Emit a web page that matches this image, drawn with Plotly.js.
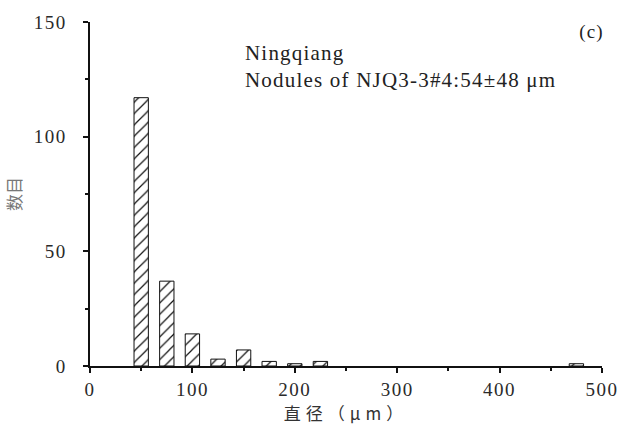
<!DOCTYPE html>
<html><head><meta charset="utf-8">
<script src="https://cdn.plot.ly/plotly-3.0.1.min.js"></script>
<style>
html,body{margin:0;padding:0;background:#fff;}#c{width:617px;height:425px;}
g.xtick text, g.ytick text{letter-spacing:1.5px;}
g.annotation text{letter-spacing:1.2px;}
text.xtitle{letter-spacing:5px;}
</style>
</head><body><div id="c"></div>
<script>
const diameters = [50, 75, 100, 125, 150, 175, 200, 225, 475];
const counts = [117, 37, 14, 3, 7, 2, 1, 2, 1];
const xTicks = [0, 100, 200, 300, 400, 500];
const yTicks = [0, 50, 100, 150];
const xTitle = "直径（μm）";
const yTitle = "数目";
const noteLines = ["Ningqiang", "Nodules of NJQ3-3#4:54±48 μm"];
const panelLabel = "(c)";

const serif = "Liberation Serif, Times New Roman, serif";
const trace = {
  type: "bar", x: diameters, y: counts, width: 14,
  marker: {color: "white", line: {color: "#111", width: 1},
    pattern: {shape: "/", fgcolor: "#111", bgcolor: "white", size: 8, solidity: 0.15}},
  hoverinfo: "skip"
};
const layout = {
  width: 617, height: 425, margin: {l: 90, r: 15, t: 22, b: 59},
  paper_bgcolor: "white", plot_bgcolor: "white", showlegend: false,
  font: {family: serif, size: 19, color: "#2a2a2a"},
  xaxis: {range: [0, 500], tickvals: xTicks, ticktext: xTicks.map(String), showgrid: false, zeroline: false,
    showline: true, linecolor: "#111", linewidth: 2, ticks: "outside", ticklen: 5, tickwidth: 2, tickcolor: "#111",
    ticklabeloverflow: "allow",
    minor: {dtick: 50, tick0: 0, ticks: "outside", ticklen: 3, tickwidth: 2, tickcolor: "#111"},
    title: {text: xTitle, font: {family: "Noto Sans CJK SC, serif", size: 17, color: "#333"}, standoff: 12}},
  yaxis: {range: [0, 150], tickvals: yTicks, ticktext: yTicks.map(v => v + "\u00a0\u00a0"), showgrid: false, zeroline: false,
    showline: true, linecolor: "#111", linewidth: 2, ticks: "outside", ticklen: 5, tickwidth: 2, tickcolor: "#111",
    minor: {dtick: 25, tick0: 0, ticks: "outside", ticklen: 3, tickwidth: 2, tickcolor: "#111"},
    title: {text: yTitle, font: {family: "Noto Sans CJK SC, serif", size: 17, color: "#777"}, standoff: 8}},
  annotations: [
    {xref: "paper", yref: "paper", x: 0.298, y: 0.95, xanchor: "left", yanchor: "top",
     text: noteLines.join("<br>"), align: "left", showarrow: false, font: {family: serif, size: 21, color: "#222"}},
    {xref: "paper", yref: "paper", x: 1.003, y: 1.01, xanchor: "right", yanchor: "top",
     text: panelLabel, showarrow: false, font: {family: serif, size: 19, color: "#222"}}
  ]
};
Plotly.newPlot("c", [trace], layout, {displayModeBar: false, staticPlot: true});
</script></body></html>
